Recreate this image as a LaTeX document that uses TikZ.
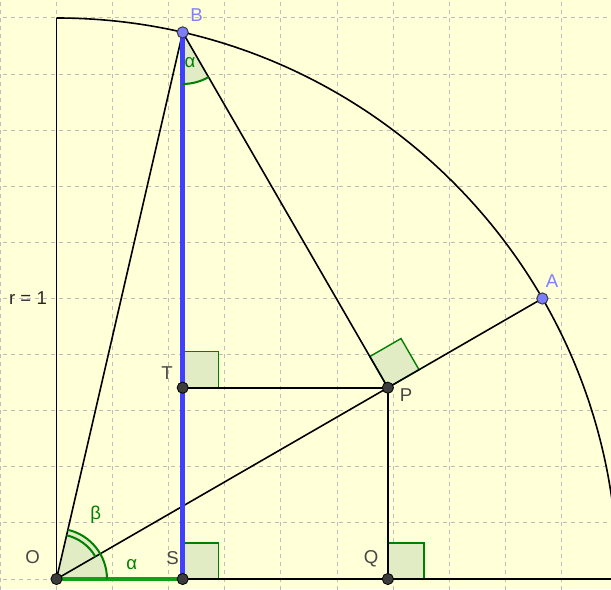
\documentclass[tikz,border=0pt]{standalone}
\usepackage{fontspec}
\setmainfont{Liberation Sans}
\definecolor{bg}{RGB}{255,255,216}
\definecolor{gridc}{RGB}{190,190,190}
\definecolor{myblue}{RGB}{64,64,255}
\definecolor{ptblue}{RGB}{125,125,255}
\definecolor{lblblue}{RGB}{128,128,255}
\definecolor{dkgray}{RGB}{60,60,60}
\definecolor{lblgray}{RGB}{70,70,70}
\definecolor{angc}{RGB}{0,128,0}
\definecolor{segc}{RGB}{20,160,20}
\definecolor{angfill}{RGB}{226,236,196}
\begin{document}
\begin{tikzpicture}[x=280.5pt,y=280.5pt,
  gridline/.style={gridc, line width=0.5pt, dash pattern=on 2pt off 2pt},
  seg/.style={black, line width=0.8pt},
  bluestroke/.style={myblue, line width=2.4pt},
  greenstroke/.style={segc, line width=2.2pt},
  angarc/.style={angc, line width=1pt},
  rightmark/.style={draw=angc, fill=angfill, line width=0.7pt},
  darkpt/.style={circle, fill=dkgray, draw=black, line width=0.4pt, inner sep=0pt, minimum size=5.6pt},
  bluept/.style={circle, fill=ptblue, draw=dkgray, line width=0.5pt, inner sep=0pt, minimum size=5.6pt},
  lbl/.style={text=lblgray, font=\fontsize{9.3}{11}\selectfont, inner sep=0pt},
  bluelbl/.style={lbl, text=lblblue},
  anglbl/.style={lbl, text=angc},
  rlbl/.style={lbl, text=black!85}]
\useasboundingbox (-0.10071,-0.017825) rectangle (0.98841,1.03209);
\fill[bg] (-0.10071,-0.017825) rectangle (0.98841,1.03209);
\begin{scope}
\clip (-0.10071,-0.017825) rectangle (0.98841,1.03209);
% grid
\foreach \i in {-1,...,9} \draw[gridline] (\i/10,-0.02) -- (\i/10,1.04);
\foreach \j in {0,...,10} \draw[gridline] (-0.11,\j/10) -- (1,\j/10);
% points
\coordinate (O) at (0,0);
\coordinate (A) at (30:1);
\coordinate (B) at (77:1);
\coordinate (P) at (30:0.681998);
\coordinate (S) at (B |- O);
\coordinate (T) at (B |- P);
\coordinate (Q) at (P |- O);
\coordinate (Y) at (0,1);
\coordinate (X) at (1,0);
% angle fills
\fill[angfill] (O) -- ++(0:0.09) arc[start angle=0,end angle=77,radius=0.09] -- cycle;
\fill[angfill] (B) -- ++(270:0.092) arc[start angle=270,end angle=300,radius=0.092] -- cycle;
% right angle marks
\draw[rightmark] (S) rectangle ++(0.0642,0.0642);
\draw[rightmark] (T) rectangle ++(0.0642,0.0642);
\draw[rightmark] (Q) rectangle ++(0.0642,0.0642);
\draw[rightmark] (P) -- ++(30:0.0642) -- ++(120:0.0642) -- ++(210:0.0642) -- cycle;
% lines
\draw[seg] (Y) -- (O) -- (X);
\draw[seg] (Y) arc[start angle=90,end angle=0,radius=1];
\draw[seg] (O) -- (B);
\draw[seg] (O) -- (A);
\draw[seg] (B) -- (P);
\draw[seg] (T) -- (P) -- (Q);
\draw[greenstroke] (O) -- (S);
\draw[bluestroke] (B) -- (S);
% angle arcs
\draw[angarc] (O) ++(0:0.09) arc[start angle=0,end angle=77,radius=0.09];
\draw[angarc] (O) ++(30:0.08) arc[start angle=30,end angle=77,radius=0.08];
\draw[angarc] (B) ++(270:0.092) arc[start angle=270,end angle=300,radius=0.092];
% dots
\node[darkpt] (dO) at (O) {};
\node[darkpt] (dS) at (S) {};
\node[darkpt] (dT) at (T) {};
\node[darkpt] (dP) at (P) {};
\node[darkpt] (dQ) at (Q) {};
\node[bluept] (dA) at (A) {};
\node[bluept] (dB) at (B) {};
% labels
\node[bluelbl] (lB) at (0.2496,1.0053) {B};
\node[bluelbl] (lA) at (0.8832,0.5312) {A};
\node[lbl] (lT) at (0.1970,0.3672) {T};
\node[lbl] (lP) at (0.6230,0.3280) {P};
\node[lbl] (lQ) at (0.5606,0.0355) {Q};
\node[lbl] (lS) at (0.2068,0.0368) {S};
\node[lbl] (lO) at (-0.0424,0.0398) {O};
\node[anglbl] (la1) at (0.1340,0.0250) {α};
\node[anglbl] (lb) at (0.0699,0.1141) {β};
\node[anglbl] (la2) at (0.2380,0.9198) {α};
\node[rlbl] (lr) at (-0.0508,0.5009) {r = 1};
\end{scope}
\end{tikzpicture}
\end{document}
